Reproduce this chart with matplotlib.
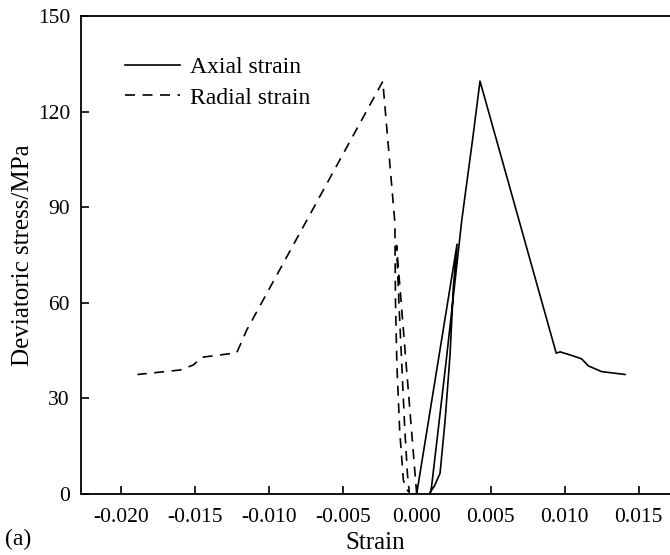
import matplotlib.pyplot as plt

plt.rcParams['font.family'] = ['Liberation Serif', 'DejaVu Serif']

# Axial strain curve (solid)
axial_strain = [0.0, 0.00273, 0.00248, 0.00226, 0.00192, 0.00158, 0.00120, 0.00102, 0.00091,
                0.00100, 0.00200, 0.00305, 0.00380, 0.00428,
                0.00943, 0.00970, 0.01059, 0.01115, 0.01160, 0.01250, 0.01408]
axial_stress = [0.0, 78.4, 65.0, 44.0, 23.0, 6.5, 2.5, 1.3, 0.3,
                2.0, 42.0, 86.0, 112.0, 129.6,
                44.2, 44.6, 43.3, 42.4, 40.2, 38.4, 37.5]

# Radial strain curve (dashed)
radial_strain = [0.0, -0.00136, -0.00118, -0.00101, -0.00080, -0.00062, -0.00050,
                 -0.00070, -0.00090, -0.00115, -0.00134, -0.00143, -0.00146, -0.00147, -0.00229,
                 -0.01148, -0.01216, -0.01452, -0.01509, -0.01599, -0.01887]
radial_stress = [0.0, 78.0, 58.0, 41.0, 20.0, 6.0, 0.5,
                 1.5, 4.4, 20.0, 41.0, 60.0, 75.0, 85.0, 129.5,
                 51.5, 44.3, 42.9, 40.5, 38.9, 37.5]

fig = plt.figure(figsize=(6.7, 5.55), dpi=100)
ax = fig.add_axes([0.121, 0.110, 0.879, 0.861])

ax.plot(axial_strain, axial_stress, color='black', lw=1.2, label='Axial strain')
ax.plot(radial_strain, radial_stress, color='black', lw=1.2, dashes=(6, 4.5), label='Radial strain')

ax.set_xlim(-0.02268, 0.01712)
ax.set_ylim(0, 150)
ax.set_xticks([-0.020, -0.015, -0.010, -0.005, 0.000, 0.005, 0.010, 0.015])
ax.set_xticklabels(['-0.020', '-0.015', '-0.010', '-0.005', '0.000', '0.005', '0.010', '0.015'])
ax.set_yticks([0, 30, 60, 90, 120, 150])
ax.tick_params(axis='x', direction='in', length=6, width=1.2, labelsize=15.5, pad=10)
ax.tick_params(axis='y', direction='in', length=6, width=1.2, labelsize=15.5, pad=8)
for side in ['left', 'bottom', 'top']:
    ax.spines[side].set_linewidth(1.3)
ax.spines['right'].set_visible(False)

ax.set_xlabel('Strain', fontsize=18, labelpad=4)
ax.set_ylabel('Deviatoric stress/MPa', fontsize=18, labelpad=3)

ax.legend(loc='upper left', bbox_to_anchor=(0.059, 0.935), frameon=False, fontsize=17,
          handlelength=2.33, handletextpad=0.42, labelspacing=0.38, borderaxespad=0)

fig.text(0.008, 0.018, '(a)', fontsize=17)

fig.savefig('out.png', dpi=100)
